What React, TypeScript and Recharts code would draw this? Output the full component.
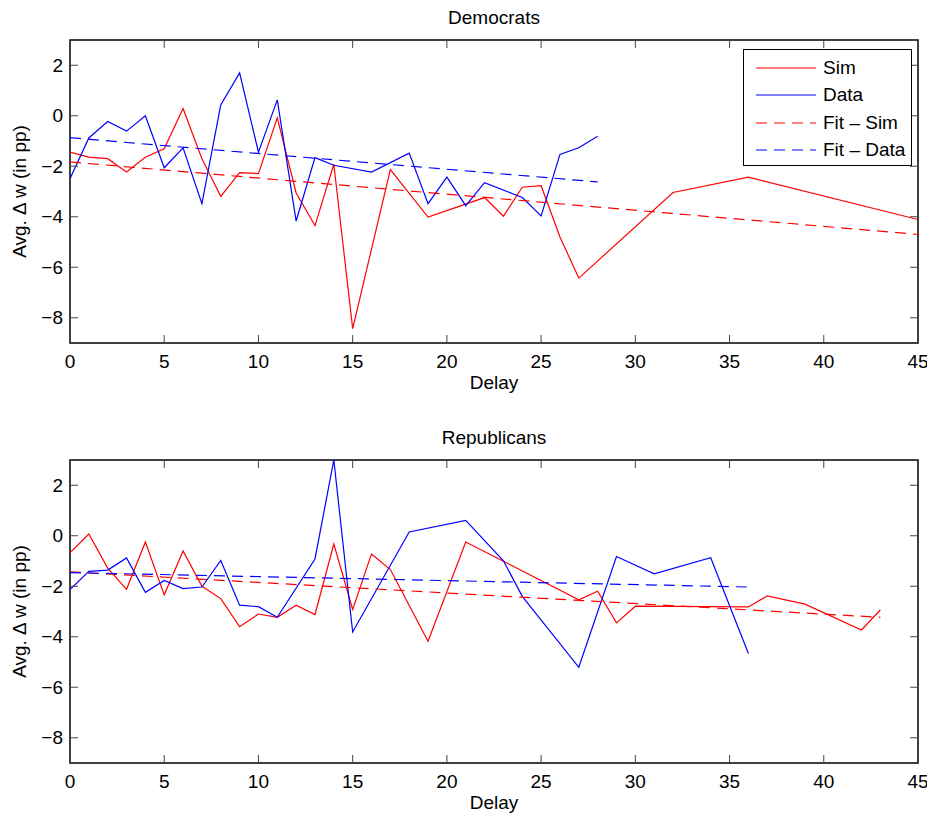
import { LineChart, Line, XAxis, YAxis, ReferenceArea, Legend } from 'recharts';

// Democrats
const demSimX = [0, 1, 2, 3, 4, 5, 6, 7, 8, 9, 10, 11, 12, 13, 14, 15, 17, 19, 22, 23, 24, 25, 26, 27, 32, 36, 45];
const demSimY = [-1.44, -1.64, -1.7, -2.23, -1.64, -1.31, 0.29, -1.7, -3.19, -2.25, -2.29, -0.08, -3.06, -4.35, -1.92, -8.43, -2.13, -4.01, -3.24, -3.98, -2.83, -2.77, -4.8, -6.43, -3.04, -2.43, -4.11];
const demDataX = [0, 1, 2, 3, 4, 5, 6, 7, 8, 9, 10, 11, 12, 13, 14, 16, 18, 19, 20, 21, 22, 24, 25, 26, 27, 28];
const demDataY = [-2.49, -0.88, -0.23, -0.61, 0.0, -2.06, -1.27, -3.48, 0.43, 1.7, -1.44, 0.63, -4.17, -1.66, -1.96, -2.23, -1.48, -3.48, -2.43, -3.56, -2.65, -3.24, -3.97, -1.53, -1.27, -0.81];
const demFitSimX = [0, 45];
const demFitSimY = [-1.83, -4.7];
const demFitDataX = [0, 28];
const demFitDataY = [-0.87, -2.62];

// Republicans
const repSimX = [0, 1, 2, 3, 4, 5, 6, 7, 8, 9, 10, 11, 12, 13, 14, 15, 16, 17, 19, 21, 27, 28, 29, 30, 36, 37, 39, 42, 43];
const repSimY = [-0.68, 0.07, -1.28, -2.12, -0.25, -2.34, -0.6, -2.0, -2.49, -3.6, -3.1, -3.23, -2.75, -3.12, -0.33, -2.92, -0.72, -1.34, -4.18, -0.25, -2.54, -2.2, -3.45, -2.79, -2.82, -2.38, -2.71, -3.73, -2.94];
const repDataX = [0, 1, 2, 3, 4, 5, 6, 7, 8, 9, 10, 11, 13, 14, 15, 18, 21, 23, 24, 27, 29, 31, 34, 36];
const repDataY = [-2.13, -1.41, -1.36, -0.88, -2.24, -1.77, -2.09, -2.03, -0.98, -2.75, -2.81, -3.23, -0.92, 3.0, -3.81, 0.15, 0.61, -0.99, -2.4, -5.21, -0.82, -1.51, -0.87, -4.66];
const repFitSimX = [0, 43];
const repFitSimY = [-1.43, -3.23];
const repFitDataX = [0, 36];
const repFitDataY = [-1.46, -2.03];

const xTicks = [0, 5, 10, 15, 20, 25, 30, 35, 40, 45];
const yTicks = [-8, -6, -4, -2, 0, 2];
const legendItems = [
  { name: 'Sim', color: '#ff0000', dashed: false },
  { name: 'Data', color: '#0000ff', dashed: false },
  { name: 'Fit \u2013 Sim', color: '#ff0000', dashed: true },
  { name: 'Fit \u2013 Data', color: '#0000ff', dashed: true },
];

const FONT = '"Liberation Sans", Arial, Helvetica, sans-serif';
const FS = 19;
const LEFT = 70;
const RIGHT = 918;
const TOP = 40;
const BOTTOM = 343;
const DASH = '11 7';

const pts = (xs: number[], ys: number[]) => xs.map((x, i) => ({ x, y: ys[i] }));
const fmt = (v: number) => (v < 0 ? '\u2212' + Math.abs(v) : String(v));

const XTick = ({ x, payload }: any) => (
  <g>
    <line x1={x} x2={x} y1={BOTTOM} y2={BOTTOM - 8} stroke="#444" />
    <line x1={x} x2={x} y1={TOP} y2={TOP + 8} stroke="#444" />
    <text x={x} y={361} textAnchor="middle" dominantBaseline="central" fontSize={FS} fontFamily={FONT} fill="#000">
      {fmt(payload.value)}
    </text>
  </g>
);

const YTick = ({ y, payload }: any) => (
  <g>
    <line x1={LEFT} x2={LEFT + 8} y1={y} y2={y} stroke="#444" />
    <line x1={RIGHT} x2={RIGHT - 8} y1={y} y2={y} stroke="#444" />
    <text x={63} y={y} textAnchor="end" dominantBaseline="central" fontSize={FS} fontFamily={FONT} fill="#000">
      {fmt(payload.value)}
    </text>
  </g>
);

const LegendBox = () => (
  <div
    style={{
      width: 167,
      height: 115,
      border: '1.5px solid #000',
      background: '#fff',
      fontFamily: FONT,
      fontSize: FS,
      position: 'relative',
    }}
  >
    {legendItems.map((it, i) => (
      <div key={it.name} style={{ position: 'absolute', left: 0, top: 5 + i * 27.4, height: 26, display: 'flex', alignItems: 'center' }}>
        <svg width={78} height={26}>
          <line x1={12} x2={72} y1={13} y2={13} stroke={it.color} strokeWidth={1.2} strokeDasharray={it.dashed ? DASH : undefined} />
        </svg>
        <span style={{ marginLeft: 1, whiteSpace: 'nowrap' }}>{it.name}</span>
      </div>
    ))}
  </div>
);

interface PanelProps {
  title: string;
  sim: { x: number; y: number }[];
  data: { x: number; y: number }[];
  fitSim: { x: number; y: number }[];
  fitData: { x: number; y: number }[];
  showLegend?: boolean;
  top: number;
}

const Panel = ({ title, sim, data, fitSim, fitData, showLegend, top }: PanelProps) => (
  <div style={{ position: 'absolute', left: 0, top, width: 935, height: 410 }}>
    <div
      style={{
        position: 'absolute',
        left: LEFT,
        width: RIGHT - LEFT,
        top: 8,
        textAlign: 'center',
        fontFamily: FONT,
        fontSize: FS,
        lineHeight: '20px',
      }}
    >
      {title}
    </div>
    <LineChart width={935} height={410} margin={{ top: TOP, right: 935 - RIGHT, bottom: 0, left: 0 }}>
      <XAxis
        dataKey="x"
        type="number"
        domain={[0, 45]}
        ticks={xTicks}
        height={67}
        axisLine={false}
        tickLine={false}
        tick={<XTick />}
        allowDataOverflow
        label={{ value: 'Delay', position: 'insideBottom', offset: 21, fontSize: FS, fontFamily: FONT, fill: '#000' }}
      />
      <YAxis
        type="number"
        domain={[-9, 3]}
        ticks={yTicks}
        width={LEFT}
        axisLine={false}
        tickLine={false}
        tick={<YTick />}
        allowDataOverflow
        label={{
          value: 'Avg. \u0394 w (in pp)',
          angle: -90,
          position: 'insideLeft',
          offset: 19,
          fontSize: FS,
          fontFamily: FONT,
          fill: '#000',
          style: { textAnchor: 'middle' },
        }}
      />
      <ReferenceArea x1={0} x2={45} y1={-9} y2={3} fill="none" stroke="#000" strokeWidth={1.5} ifOverflow="visible" />
      <Line data={sim} dataKey="y" type="linear" stroke="#ff0000" strokeWidth={1.2} dot={false} isAnimationActive={false} />
      <Line data={data} dataKey="y" type="linear" stroke="#0000ff" strokeWidth={1.2} dot={false} isAnimationActive={false} />
      <Line data={fitSim} dataKey="y" type="linear" stroke="#ff0000" strokeWidth={1.2} strokeDasharray={DASH} dot={false} isAnimationActive={false} />
      <Line data={fitData} dataKey="y" type="linear" stroke="#0000ff" strokeWidth={1.2} strokeDasharray={DASH} dot={false} isAnimationActive={false} />
      {showLegend && (
        <Legend
          layout="horizontal"
          verticalAlign="middle"
          align="center"
          content={<LegendBox />}
          wrapperStyle={{ position: 'absolute', left: 743, top: 49, width: 'auto' }}
        />
      )}
    </LineChart>
  </div>
);

export default function App() {
  return (
    <div style={{ position: 'relative', width: 935, height: 821, margin: -8, background: '#fff' }}>
      <Panel
        title="Democrats"
        top={0}
        sim={pts(demSimX, demSimY)}
        data={pts(demDataX, demDataY)}
        fitSim={pts(demFitSimX, demFitSimY)}
        fitData={pts(demFitDataX, demFitDataY)}
        showLegend
      />
      <Panel
        title="Republicans"
        top={420}
        sim={pts(repSimX, repSimY)}
        data={pts(repDataX, repDataY)}
        fitSim={pts(repFitSimX, repFitSimY)}
        fitData={pts(repFitDataX, repFitDataY)}
      />
    </div>
  );
}
